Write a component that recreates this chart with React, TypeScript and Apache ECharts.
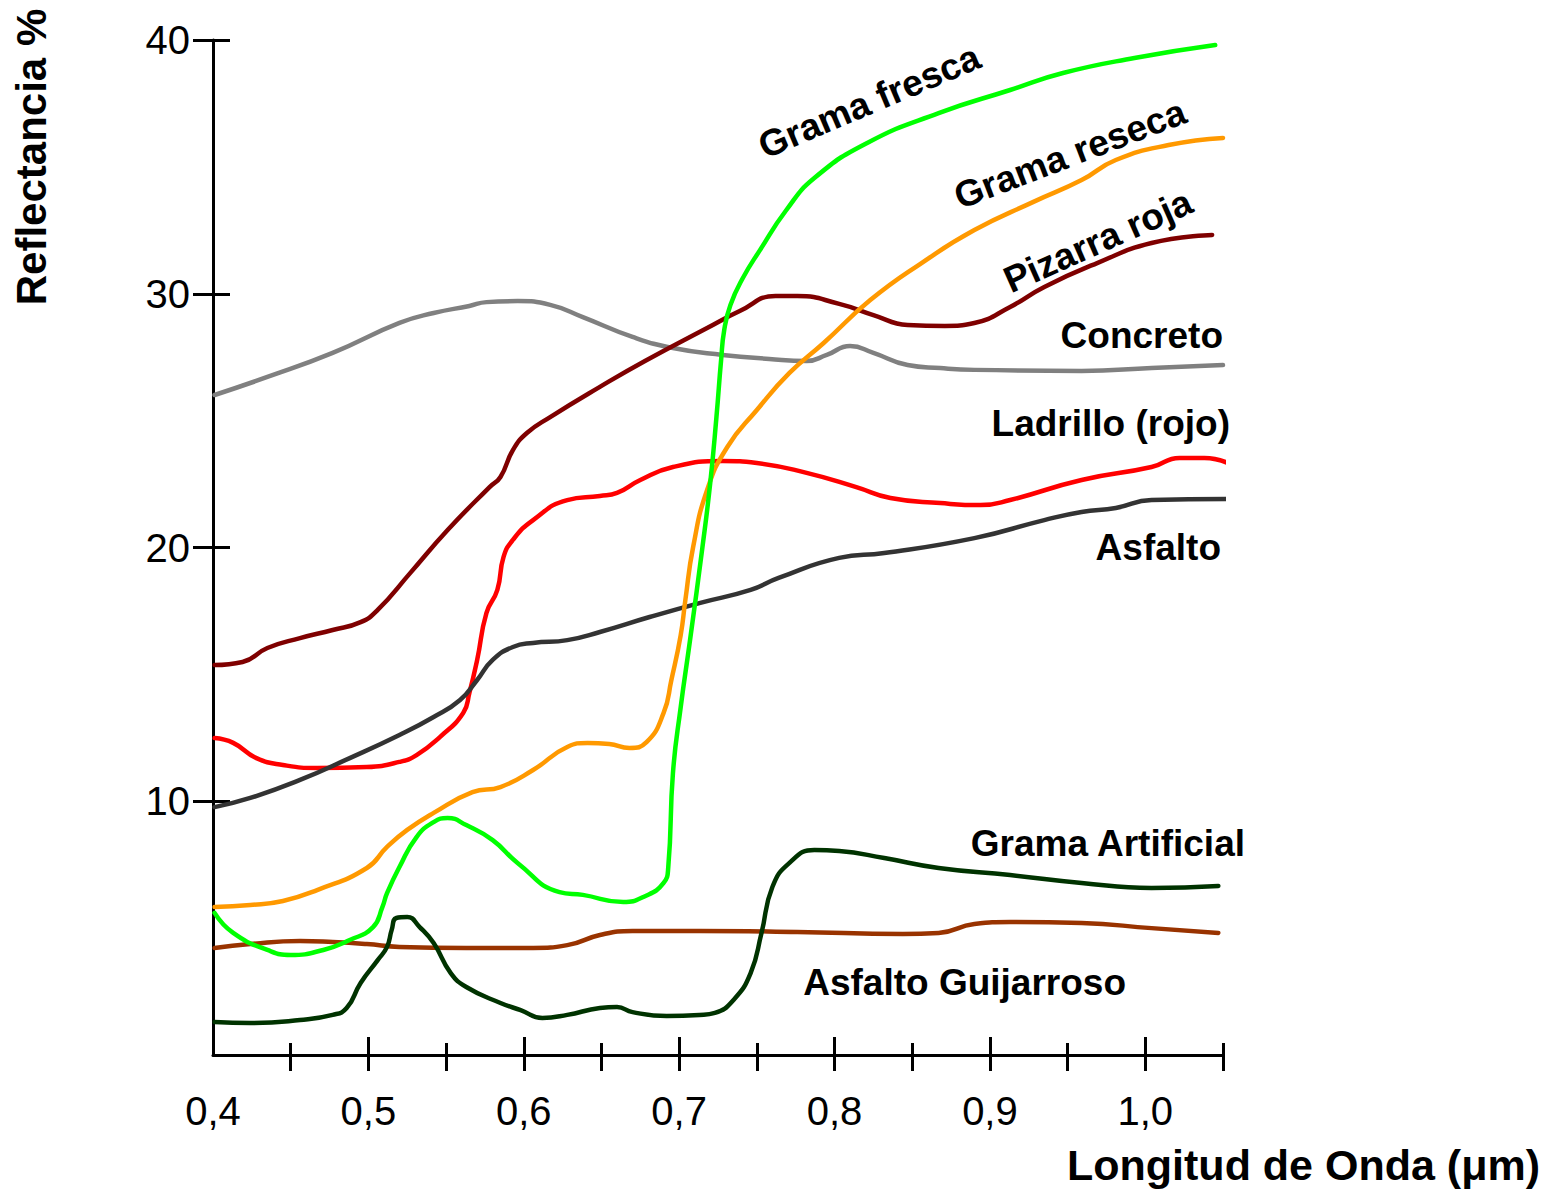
import React, { useEffect, useRef } from "react";
import * as echarts from "echarts";

// Spectral reflectance curves: [wavelength (µm), reflectance (%)]
const concreto: [number, number][] = [
  [0.401, 26.01], [0.435, 26.72], [0.477, 27.67], [0.52, 28.85], [0.542, 29.24],
  [0.565, 29.52], [0.576, 29.67], [0.596, 29.71], [0.617, 29.56], [0.638, 29.08],
  [0.67, 28.3], [0.696, 27.86], [0.728, 27.59], [0.758, 27.43], [0.782, 27.35],
  [0.795, 27.59], [0.81, 27.94], [0.825, 27.67], [0.847, 27.19], [0.868, 27.07],
  [0.89, 27.0], [0.959, 26.96], [1.004, 27.07], [1.05, 27.19],
];

const pizarraRoja: [number, number][] = [
  [0.401, 15.37], [0.419, 15.49], [0.435, 16.04], [0.456, 16.43], [0.477, 16.75],
  [0.495, 17.06], [0.506, 17.54], [0.527, 19.0], [0.551, 20.69], [0.578, 22.38],
  [0.585, 22.78], [0.593, 23.84], [0.602, 24.51], [0.617, 25.14], [0.649, 26.33],
  [0.678, 27.35], [0.718, 28.65], [0.739, 29.32], [0.762, 29.91], [0.776, 29.91],
  [0.803, 29.6], [0.825, 29.16], [0.847, 28.77], [0.871, 28.73], [0.89, 28.85],
  [0.913, 29.48], [0.935, 30.27], [0.969, 31.21], [1.004, 32.0], [1.043, 32.32],
];

const ladrillo: [number, number][] = [
  [0.401, 12.49], [0.413, 12.3], [0.428, 11.7], [0.445, 11.43], [0.467, 11.31],
  [0.499, 11.35], [0.52, 11.55], [0.531, 11.82], [0.546, 12.53], [0.561, 13.48],
  [0.565, 14.27], [0.57, 15.57], [0.576, 17.42], [0.583, 18.33], [0.587, 19.63],
  [0.593, 20.3], [0.606, 21.08], [0.628, 21.87], [0.649, 22.03], [0.66, 22.15],
  [0.675, 22.66], [0.696, 23.17], [0.728, 23.41], [0.75, 23.33], [0.782, 22.94],
  [0.814, 22.38], [0.836, 21.95], [0.868, 21.75], [0.894, 21.67], [0.913, 21.87],
  [0.959, 22.66], [1.004, 23.17], [1.022, 23.53], [1.038, 23.53], [1.053, 23.33],
];

const asfalto: [number, number][] = [
  [0.401, 9.77], [0.424, 10.13], [0.456, 10.84], [0.488, 11.7], [0.52, 12.61],
  [0.542, 13.32], [0.559, 13.99], [0.57, 14.78], [0.58, 15.57], [0.593, 16.08],
  [0.606, 16.24], [0.628, 16.35], [0.649, 16.67], [0.681, 17.26], [0.713, 17.81],
  [0.746, 18.33], [0.764, 18.8], [0.803, 19.59], [0.832, 19.78], [0.89, 20.37],
  [0.935, 21.08], [0.959, 21.4], [0.981, 21.56], [1.004, 21.87], [1.052, 21.91],
];

const gramaReseca: [number, number][] = [
  [0.401, 5.83], [0.424, 5.91], [0.445, 6.07], [0.467, 6.5], [0.499, 7.37],
  [0.512, 8.2], [0.525, 8.87], [0.542, 9.54], [0.567, 10.36], [0.585, 10.56],
  [0.606, 11.23], [0.628, 12.14], [0.641, 12.3], [0.655, 12.26], [0.668, 12.1],
  [0.679, 12.33], [0.69, 13.48], [0.695, 14.78], [0.701, 16.55], [0.704, 17.93],
  [0.709, 20.02], [0.718, 22.27], [0.731, 23.96], [0.75, 25.42], [0.771, 26.88],
  [0.793, 28.06], [0.823, 29.75], [0.856, 31.21], [0.89, 32.51], [0.928, 33.62],
  [0.959, 34.48], [0.981, 35.27], [1.015, 35.86], [1.05, 36.14],
];

const gramaFresca: [number, number][] = [
  [0.401, 5.6], [0.413, 4.81], [0.435, 4.14], [0.45, 3.94], [0.471, 4.14],
  [0.488, 4.53], [0.503, 5.04], [0.509, 5.83], [0.512, 6.38], [0.52, 7.41],
  [0.531, 8.59], [0.542, 9.18], [0.551, 9.34], [0.563, 9.06], [0.58, 8.47],
  [0.596, 7.57], [0.623, 6.42], [0.638, 6.31], [0.664, 6.03], [0.677, 6.23],
  [0.69, 6.78], [0.693, 7.41], [0.696, 11.11], [0.701, 13.71], [0.707, 16.35],
  [0.715, 20.02], [0.72, 22.54], [0.724, 25.14], [0.727, 27.39], [0.729, 28.57],
  [0.733, 29.56], [0.741, 30.62], [0.752, 31.72], [0.769, 33.3], [0.787, 34.56],
  [0.821, 35.94], [0.867, 37.12], [0.913, 38.03], [0.947, 38.7], [0.993, 39.29],
  [1.045, 39.8],
];

const gramaArtificial: [number, number][] = [
  [0.401, 1.3], [0.424, 1.26], [0.456, 1.38], [0.477, 1.58], [0.486, 1.85],
  [0.495, 2.84], [0.506, 3.74], [0.512, 4.26], [0.515, 4.93], [0.518, 5.4],
  [0.525, 5.44], [0.533, 5.04], [0.542, 4.41], [0.553, 3.23], [0.563, 2.68],
  [0.585, 2.05], [0.598, 1.77], [0.612, 1.46], [0.628, 1.58], [0.649, 1.85],
  [0.66, 1.89], [0.67, 1.69], [0.692, 1.54], [0.713, 1.58], [0.723, 1.66],
  [0.735, 2.17], [0.746, 3.23], [0.753, 4.81], [0.76, 6.62], [0.771, 7.57],
  [0.787, 8.08], [0.803, 8.04], [0.832, 7.76], [0.867, 7.37], [0.913, 7.09],
  [0.959, 6.78], [1.004, 6.58], [1.047, 6.66],
];

const asfaltoGuijarroso: [number, number][] = [
  [0.401, 4.22], [0.424, 4.37], [0.456, 4.49], [0.477, 4.45], [0.499, 4.37],
  [0.52, 4.26], [0.563, 4.22], [0.606, 4.22], [0.628, 4.33], [0.649, 4.73],
  [0.67, 4.89], [0.713, 4.89], [0.776, 4.85], [0.844, 4.77], [0.867, 4.81],
  [0.89, 5.16], [0.913, 5.24], [0.959, 5.2], [1.004, 5.0], [1.047, 4.81],
];

// Axis ticks
const xLabelValues = [0.4, 0.5, 0.6, 0.7, 0.8, 0.9, 1.0];
const xMajorTicks = [0.5, 0.6, 0.7, 0.8, 0.9, 1.0];
const xMinorTicks = [0.45, 0.55, 0.65, 0.75, 0.85, 0.95, 1.05];
const yTickValues = [10, 20, 30, 40];

const curves = [
  { name: "Concreto", color: "#808080", data: concreto },
  { name: "Pizarra roja", color: "#7f0000", data: pizarraRoja },
  { name: "Ladrillo (rojo)", color: "#ff0000", data: ladrillo },
  { name: "Asfalto", color: "#333333", data: asfalto },
  { name: "Asfalto Guijarroso", color: "#993300", data: asfaltoGuijarroso },
  { name: "Grama Artificial", color: "#003300", data: gramaArtificial },
  { name: "Grama reseca", color: "#ff9900", data: gramaReseca },
  { name: "Grama fresca", color: "#00ff00", data: gramaFresca },
];

// Curve captions: [text, x, y, rotation in degrees, alignment]
const captions: [string, number, number, number, string][] = [
  ["Grama fresca", 869, 101, 23, "center"],
  ["Grama reseca", 1070, 154, 21, "center"],
  ["Pizarra roja", 1098, 241, 24, "center"],
  ["Concreto", 1223, 335, 0, "right"],
  ["Ladrillo (rojo)", 1230, 423, 0, "right"],
  ["Asfalto", 1221, 547, 0, "right"],
  ["Grama Artificial", 1245, 843, 0, "right"],
  ["Asfalto Guijarroso", 1126, 982, 0, "right"],
];

const FONT = '"Liberation Sans", Arial, Helvetica, sans-serif';
const X_MIN = 0.4;
const X_MAX = 1.05;

const tickStyle = { color: "#000", width: 3 };

const hiddenX = (ticks: number[], length: number) => ({
  type: "value",
  position: "bottom",
  min: X_MIN,
  max: X_MAX,
  axisLine: { show: false },
  axisLabel: { show: false },
  splitLine: { show: false },
  axisTick: { show: true, inside: true, length, lineStyle: tickStyle, customValues: ticks },
});

export default function App() {
  const ref = useRef<HTMLDivElement>(null);

  useEffect(() => {
    document.body.style.margin = "0";
    const chart = echarts.init(ref.current!, undefined, { renderer: "svg" });

    const option = {
      animation: false,
      backgroundColor: "#ffffff",
      grid: { left: 213, top: 40, right: 332, bottom: 135, containLabel: false },
      xAxis: [
        {
          type: "value",
          position: "bottom",
          min: X_MIN,
          max: X_MAX,
          axisLine: { show: true, onZero: false, lineStyle: { color: "#000", width: 3 } },
          axisTick: {
            show: true,
            inside: false,
            length: 16,
            lineStyle: tickStyle,
            customValues: [...xMajorTicks, ...xMinorTicks],
          },
          axisLabel: {
            show: true,
            customValues: xLabelValues,
            margin: 36,
            color: "#000",
            fontFamily: FONT,
            fontSize: 40,
            formatter: (v: number) => v.toFixed(1).replace(".", ","),
          },
          splitLine: { show: false },
        },
        hiddenX(xMajorTicks, 18),
        hiddenX(xMinorTicks, 12),
      ],
      yAxis: [
        {
          type: "value",
          position: "left",
          min: 0,
          max: 40,
          axisLine: { show: true, onZero: false, lineStyle: { color: "#000", width: 3 } },
          axisTick: { show: true, inside: false, length: 20, lineStyle: tickStyle, customValues: yTickValues },
          axisLabel: {
            show: true,
            customValues: yTickValues,
            margin: 23,
            color: "#000",
            fontFamily: FONT,
            fontSize: 40,
          },
          splitLine: { show: false },
        },
        {
          type: "value",
          position: "left",
          min: 0,
          max: 40,
          axisLine: { show: false },
          axisLabel: { show: false },
          splitLine: { show: false },
          axisTick: { show: true, inside: true, length: 17, lineStyle: tickStyle, customValues: yTickValues },
        },
      ],
      series: curves.map((c, i) => ({
        type: "line",
        name: c.name,
        data: c.data,
        xAxisIndex: 0,
        yAxisIndex: 0,
        smooth: 0.5,
        symbol: "none",
        clip: false,
        z: 2 + i,
        lineStyle: { color: c.color, width: 4.5, cap: "round", join: "round" },
      })),
      graphic: [
        ...captions.map(([text, x, y, deg, align]) => ({
          type: "text",
          x,
          y,
          rotation: (deg * Math.PI) / 180,
          z: 100,
          style: {
            text,
            fill: "#000",
            font: `bold 37px ${FONT}`,
            align,
            verticalAlign: "middle",
          },
        })),
        {
          type: "text",
          x: 31,
          y: 157,
          rotation: Math.PI / 2,
          style: {
            text: "Reflectancia %",
            fill: "#000",
            font: `bold 42px ${FONT}`,
            align: "center",
            verticalAlign: "middle",
          },
        },
        {
          type: "text",
          x: 1540,
          y: 1165,
          style: {
            text: "Longitud de Onda (μm)",
            fill: "#000",
            font: `bold 43px ${FONT}`,
            align: "right",
            verticalAlign: "middle",
          },
        },
      ],
    };

    chart.setOption(option as any);
    return () => chart.dispose();
  }, []);

  return <div ref={ref} style={{ width: 1555, height: 1190 }} />;
}
